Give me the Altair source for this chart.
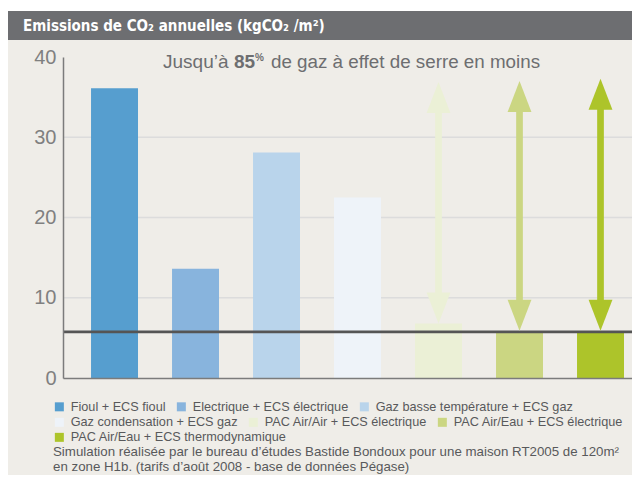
import altair as alt
import pandas as pd

# ---- data ----
categories = [
    "Fioul + ECS fioul",
    "Electrique + ECS électrique",
    "Gaz basse température + ECS gaz",
    "Gaz condensation + ECS gaz",
    "PAC Air/Air + ECS électrique",
    "PAC Air/Eau + ECS électrique",
    "PAC Air/Eau + ECS thermodynamique",
]
emissions = [36.1, 13.6, 28.1, 22.5, 6.8, 5.6, 5.6]
colors = ["#569ecf", "#88b4dd", "#b9d4eb", "#eef3f9", "#ebf0d6", "#cbd682", "#adc42a"]
legend_rows = [[0, 1, 2], [3, 4, 5], [6]]

arrow_categories = categories[4:]
arrow_top = [36.9, 37.0, 37.3]
arrow_bottom = [6.8, 5.9, 5.9]

reference_level = [5.75]
grid_levels = [10, 20, 30]
y_ticks = [0, 10, 20, 30, 40]

title_text = "Emissions de CO₂ annuelles (kgCO₂ /m²)"
note_lines = [
    "Simulation réalisée par le bureau d’études Bastide Bondoux pour une maison RT2005 de 120m²",
    "en zone H1b. (tarifs d’août 2008 - base de données Pégase)",
]

# ---- layout ----
W, H = 569, 321
PAD_L, PAD_T, PAD_B = 55, 49, 97
FONT = "Liberation Sans"
NARROW = "DejaVu Sans Condensed"
BEIGE = "#efede8"
HEADER = "#6d6e71"
TEXT = "#58595b"
AXIS = "#7b7b7b"
LEG_SIZE = 12.7
NOTE_SIZE = 13.3

bars_df = pd.DataFrame({"cat": categories, "value": emissions})
arrows_df = pd.DataFrame({"cat": arrow_categories, "top": arrow_top, "bottom": arrow_bottom})
ref_df = pd.DataFrame({"level": reference_level})
grid_df = pd.DataFrame({"level": grid_levels})
one = pd.DataFrame({"a": [0]})

x_scale = alt.Scale(domain=categories, paddingInner=0.42, paddingOuter=0.2224, align=0.778)
y_scale = alt.Scale(domain=[0, 40], nice=False, zero=True)

x_enc = alt.X("cat:N", scale=x_scale, sort=categories,
              axis=alt.Axis(title=None, labels=False, ticks=False, domainColor=AXIS,
                            domainWidth=1.5, zindex=1))
y_axis = alt.Axis(title=None, values=y_ticks, ticks=False, grid=False, labelFontSize=20,
                  labelColor="#808080", labelFont=FONT, labelPadding=7, domainColor=AXIS,
                  domainWidth=1.5, zindex=1)

top_strip = alt.Chart(one).mark_rect(color="white").encode(
    x=alt.value(-55), x2=alt.value(W), y=alt.value(-49), y2=alt.value(-46)
)
header = alt.Chart(one).mark_rect(color=HEADER).encode(
    x=alt.value(-55), x2=alt.value(W), y=alt.value(-46), y2=alt.value(-17)
)
header_text = alt.Chart(one).mark_text(
    text=title_text, font=NARROW, fontSize=15, fontWeight="bold", color="white",
    align="left", baseline="alphabetic"
).encode(x=alt.value(-40), y=alt.value(-26))

grid = alt.Chart(grid_df).mark_rule(color="#dcdcdc", strokeWidth=1.5).encode(
    y=alt.Y("level:Q", scale=y_scale, axis=y_axis)
)

# one bar layer per legend row, each with its own colour scale (and legend)
legend_y = [343, 358.5, 374]
bar_layers = []
for r, idx in enumerate(legend_rows):
    cats = [categories[i] for i in idx]
    cols = [colors[i] for i in idx]
    leg = alt.Legend(
        title=None, orient="none", legendX=-10, legendY=legend_y[r],
        direction="horizontal", columns=len(cats), columnPadding=9,
        symbolType="square", symbolSize=81, symbolStrokeWidth=0, labelOffset=5,
        labelFont=FONT, labelFontSize=LEG_SIZE, labelColor=TEXT, labelLimit=600, padding=0,
    )
    layer = alt.Chart(bars_df[bars_df["cat"].isin(cats)]).mark_bar(opacity=1).encode(
        x=x_enc,
        y=alt.Y("value:Q", scale=y_scale, axis=y_axis),
        color=alt.Color("cat:N", scale=alt.Scale(domain=cats, range=cols), sort=cats, legend=leg),
    )
    bar_layers.append(layer)

ref_line = alt.Chart(ref_df).mark_rule(color="#555555", strokeWidth=2.7).encode(
    y=alt.Y("level:Q", scale=y_scale)
)

arrow_color = alt.Color("cat:N", scale=alt.Scale(domain=categories, range=colors), legend=None)
shaft = alt.Chart(arrows_df).mark_rule(strokeWidth=6.7, yOffset=28, y2Offset=-28, strokeCap="butt").encode(
    x=x_enc, y=alt.Y("top:Q", scale=y_scale), y2="bottom:Q", color=arrow_color
)
head_up = alt.Chart(arrows_df).mark_point(
    shape="M0,0L0.77,2L-0.77,2Z", size=961, filled=True, opacity=1, strokeWidth=0
).encode(x=x_enc, y=alt.Y("top:Q", scale=y_scale), color=arrow_color)
head_down = alt.Chart(arrows_df).mark_point(
    shape="M0,0L0.77,-2L-0.77,-2Z", size=961, filled=True, opacity=1, strokeWidth=0
).encode(x=x_enc, y=alt.Y("bottom:Q", scale=y_scale), color=arrow_color)

SUB_Y = 11
SUB_COLOR = "#6d6e70"
sub1 = alt.Chart(one).mark_text(text="Jusqu’à", font=FONT, fontSize=19, color=SUB_COLOR,
                                align="left", baseline="alphabetic").encode(x=alt.value(100), y=alt.value(SUB_Y))
sub2 = alt.Chart(one).mark_text(text="85", font=FONT, fontSize=19, fontWeight="bold", color=SUB_COLOR,
                                align="left", baseline="alphabetic").encode(x=alt.value(171), y=alt.value(SUB_Y))
sub3 = alt.Chart(one).mark_text(text="%", font=FONT, fontSize=10, fontWeight="bold", color=SUB_COLOR,
                                align="left", baseline="alphabetic").encode(x=alt.value(192), y=alt.value(SUB_Y - 7))
sub4 = alt.Chart(one).mark_text(text="de gaz à effet de serre en moins", font=FONT, fontSize=18.8,
                                color=SUB_COLOR, align="left", baseline="alphabetic").encode(
    x=alt.value(208), y=alt.value(SUB_Y))

note = alt.Chart(one).mark_text(
    text=note_lines, font=FONT, fontSize=NOTE_SIZE, color=TEXT, align="left", baseline="middle",
    lineHeight=15
).encode(x=alt.value(-10), y=alt.value(395))

chart = alt.layer(
    top_strip, header, header_text, grid, *bar_layers, ref_line, shaft, head_up, head_down,
    sub1, sub2, sub3, sub4, note
).resolve_scale(color="independent").properties(
    width=W, height=H,
    padding={"left": PAD_L, "top": PAD_T, "right": 0, "bottom": PAD_B},
    autosize=alt.AutoSizeParams(type="none"),
    background=BEIGE,
).configure_view(strokeWidth=0)

chart.save("out.html", embed_options={"renderer": "svg", "actions": False})
